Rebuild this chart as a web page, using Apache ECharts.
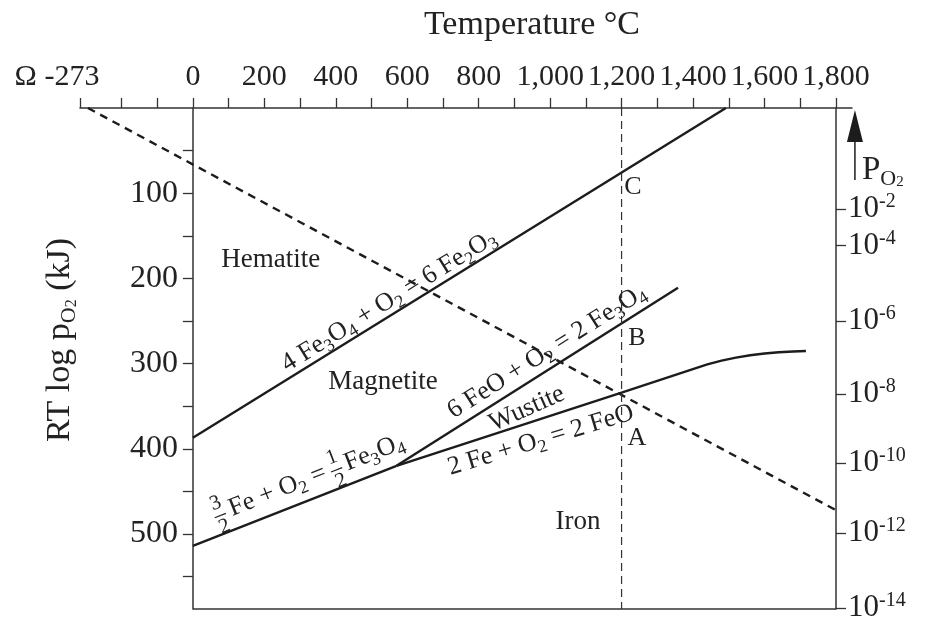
<!DOCTYPE html>
<html><head><meta charset="utf-8">
<script src="https://cdn.jsdelivr.net/npm/echarts@6/dist/echarts.min.js"></script>
<style>html,body{margin:0;padding:0;background:#fff}#c{width:929px;height:618px}</style>
</head><body><div id="c"></div>
<script>
const FONT = '"Liberation Serif","DejaVu Serif",serif';
const INK = '#222222';
const LINE = '#1c1c1c';

// Temperature axis (°C) – left end is the absolute-zero tick labelled -273
const tempMin = -316;
const tempMax = 1845;
const tempTicks = [-316, -200, -100, 0, 100, 200, 300, 400, 500, 600, 700, 800, 900, 1000, 1100, 1200, 1300, 1400, 1500, 1600, 1700, 1800];
const tempLabels = [-316, 0, 200, 400, 600, 800, 1000, 1200, 1400, 1600, 1800];

// RT log pO2 (kJ) axis, increasing downward
const energyMax = 588;
const energyTicks = [50, 100, 150, 200, 250, 300, 350, 400, 450, 500, 550];
const energyLabels = [100, 200, 300, 400, 500];

// right-hand pO2 scale: tick positions on the kJ scale and their exponents
const po2Pos = [118.5, 161.6, 250, 335.7, 416.7, 498.8, 586.8];
const po2Exp = ['-2', '-4', '-6', '-8', '-10', '-12', '-14'];

// equilibrium lines [T °C, kJ]
const magHem = [[0, 387], [1492, 0]];
const feMag = [[0, 514], [570, 420]];
const wusMag = [[570, 420], [1358, 211]];
const feWus = [[570, 420], [1200, 334], [1440, 301], [1480, 296.5], [1520, 293], [1560, 290.2], [1600, 288.2], [1640, 286.7], [1680, 285.7], [1716, 285.2]];
const po2Line = [[-294, 0], [1800, 472]];
const isotherm = [[1200, 0], [1200, 588]];
const frameBottom = [[0, 588], [1800, 588]];

// text annotations [text, T, kJ]
const regionNames = [['Hematite', 218, 178], ['Magnetite', 532, 322], ['Iron', 1078, 486]];
const pointNames = [['C', 1232, 93], ['B', 1243, 270], ['A', 1243, 387]];

function fmtTemp(v) {
  if (v === tempMin) return '{o|Ω -273}';
  return v >= 1000 ? Math.floor(v / 1000) + ',' + String(v % 1000).padStart(3, '0') : String(v);
}

const lineStyle = { color: LINE, width: 2.4 };
function mk(data, style, extra) {
  return Object.assign({ type: 'line', data: data, symbol: 'none', silent: true, clip: false,
    lineStyle: style, z: 3 }, extra || {});
}

const option = {
  animation: false,
  backgroundColor: '#fff',
  grid: { left: 80, right: 77, top: 108, bottom: 9, containLabel: false, outerBoundsMode: 'none' },
  xAxis: {
    type: 'value', position: 'top', min: tempMin, max: tempMax,
    axisLine: { onZero: false, lineStyle: { color: '#333', width: 1.5 } },
    axisTick: { show: true, inside: false, length: 10, customValues: tempTicks, lineStyle: { color: '#333', width: 1.3 } },
    axisLabel: {
      customValues: tempLabels, formatter: fmtTemp, margin: 16,
      fontFamily: FONT, fontSize: 30, color: INK,
      rich: { o: { fontFamily: FONT, fontSize: 30, color: INK, padding: [0, 46, 0, 0] } }
    },
    splitLine: { show: false }
  },
  yAxis: [{
    type: 'value', inverse: true, min: 0, max: energyMax,
    axisLine: { show: true, onZero: true, lineStyle: { color: '#333', width: 1.5 } },
    axisTick: { show: true, inside: false, length: 10, customValues: energyTicks, lineStyle: { color: '#333', width: 1.3 } },
    axisLabel: { customValues: energyLabels, margin: -98, fontFamily: FONT, fontSize: 32, color: INK, align: 'right' },
    splitLine: { show: false }
  }, {
    type: 'value', inverse: true, min: 0, max: energyMax, position: 'right', offset: -16,
    axisLine: { show: true, onZero: false, lineStyle: { color: '#333', width: 1.5 } },
    axisTick: { show: true, inside: false, length: 10, customValues: po2Pos, lineStyle: { color: '#333', width: 1.3 } },
    axisLabel: {
      customValues: po2Pos, margin: 12,
      formatter: function (v) {
        let i = po2Pos.findIndex(p => Math.abs(p - v) < 0.01);
        return i < 0 ? '' : '{b|10}{s|' + po2Exp[i] + '}';
      },
      rich: {
        b: { fontFamily: FONT, fontSize: 31, color: INK, lineHeight: 34, verticalAlign: 'middle' },
        s: { fontFamily: FONT, fontSize: 20, color: INK, lineHeight: 20, verticalAlign: 'top' }
      }
    },
    splitLine: { show: false }
  }],
  series: [
    mk(magHem, lineStyle),
    mk(feMag, lineStyle),
    mk(wusMag, lineStyle),
    mk(feWus, lineStyle),
    mk(po2Line, { color: LINE, width: 2.4, type: [8, 6] }),
    mk(isotherm, { color: '#333', width: 1.2, type: [8, 5] }),
    mk(frameBottom, { color: '#333', width: 1.5 })
  ]
};

const chart = echarts.init(document.getElementById('c'), null, { renderer: 'canvas' });
chart.setOption(option);

function px(p) { return chart.convertToPixel({ gridIndex: 0 }, p); }
function ang(a, b) { const p = px(a), q = px(b); return -Math.atan2(q[1] - p[1], q[0] - p[0]); }

const subRich = {
  s: { fontFamily: FONT, fontSize: 18, fill: INK, lineHeight: 18, verticalAlign: 'bottom' }
};
function txt(text, pos, rot, size, extra) {
  const p = px(pos);
  return Object.assign({
    type: 'text', x: p[0], y: p[1], rotation: rot || 0, z: 10,
    style: { text: text, fontFamily: FONT, fontSize: size || 26, fill: INK, lineHeight: 32,
      align: 'center', verticalAlign: 'middle', textAlign: 'center', textVerticalAlign: 'middle', rich: subRich }
  }, extra || {});
}
function plain(text, x, y, size, align) {
  return { type: 'text', x: x, y: y, style: { text: text, fontFamily: FONT, fontSize: size, fill: INK, lineHeight: 32,
    align: align || 'center', verticalAlign: 'middle', textAlign: align || 'center', textVerticalAlign: 'middle', rich: subRich } };
}

const g = [];
regionNames.forEach(r => g.push(txt(r[0], [r[1], r[2]], 0, 27)));
pointNames.forEach(r => g.push(txt(r[0], [r[1], r[2]], 0, 26)));

const a1 = ang(magHem[0], magHem[1]);
const a2 = ang(feMag[0], feMag[1]);
const a3 = ang(wusMag[0], wusMag[1]);
const a4 = ang(feWus[0], feWus[1]);
g.push(txt('4 Fe{s|3}O{s|4} + O{s|2} = 6 Fe{s|2}O{s|3}', [549, 226.5], a1, 26));
g.push(txt('6 FeO + O{s|2} = 2 Fe{s|3}O{s|4}', [991, 286], a3, 26));
g.push(txt('2 Fe + O{s|2} = 2 FeO', [974, 390], a4 - 0.02, 26));
g.push(txt('Wustite', [935, 353], (a3 + a4) / 2 - 0.02, 26));

// 3/2 Fe + O2 = 1/2 Fe3O4 with stacked fractions
const e2 = px([330, 434]);
g.push({
  type: 'group', x: e2[0], y: e2[1], rotation: a2, z: 10,
  children: [
    plain('3', -98, -11, 21), plain('2', -98, 14, 21),
    { type: 'line', shape: { x1: -104, y1: 2, x2: -92, y2: 2 }, style: { stroke: INK, lineWidth: 1.2 } },
    plain('Fe + O{s|2} =', -87, 0, 26, 'left'),
    plain('1', 27, -11, 21), plain('2', 27, 14, 21),
    { type: 'line', shape: { x1: 21, y1: 2, x2: 33, y2: 2 }, style: { stroke: INK, lineWidth: 1.2 } },
    plain('Fe{s|3}O{s|4}', 37, 0, 26, 'left')
  ]
});

// titles
g.push({ type: 'text', x: 532, y: 25, style: { text: 'Temperature °C', fontFamily: FONT, fontSize: 34, fill: INK,
  align: 'center', verticalAlign: 'middle', textAlign: 'center', textVerticalAlign: 'middle' } });
g.push({ type: 'text', x: 60, y: 340, rotation: Math.PI / 2, style: {
  text: 'RT log p{o|O}{t|2} (kJ)', fontFamily: FONT, fontSize: 34, fill: INK, lineHeight: 40,
  align: 'center', verticalAlign: 'middle', textAlign: 'center', textVerticalAlign: 'middle',
  rich: {
    o: { fontFamily: FONT, fontSize: 22, fill: INK, lineHeight: 22, verticalAlign: 'bottom' },
    t: { fontFamily: FONT, fontSize: 16, fill: INK, lineHeight: 14, verticalAlign: 'bottom' }
  } } });

// pO2 arrow and label beside the right axis
const ra = px([1800, 0]);
const axX = ra[0] + 19;
g.push({ type: 'polygon', shape: { points: [[axX, ra[1] + 2], [axX - 8, ra[1] + 34], [axX + 8, ra[1] + 34]] }, style: { fill: LINE } });
g.push({ type: 'line', shape: { x1: axX, y1: ra[1] + 30, x2: axX, y2: ra[1] + 72 }, style: { stroke: LINE, lineWidth: 1.5 } });
g.push({ type: 'text', x: axX + 7, y: ra[1] + 62, style: {
  text: '{p|P}{o|O}{t|2}', align: 'left', verticalAlign: 'middle', textAlign: 'left', textVerticalAlign: 'middle',
  rich: {
    p: { fontFamily: FONT, fontSize: 33, fill: INK, lineHeight: 40, verticalAlign: 'middle' },
    o: { fontFamily: FONT, fontSize: 22, fill: INK, lineHeight: 22, verticalAlign: 'bottom' },
    t: { fontFamily: FONT, fontSize: 15, fill: INK, lineHeight: 12, verticalAlign: 'bottom' }
  } } });

chart.setOption({ graphic: { elements: g } });
</script></body></html>
